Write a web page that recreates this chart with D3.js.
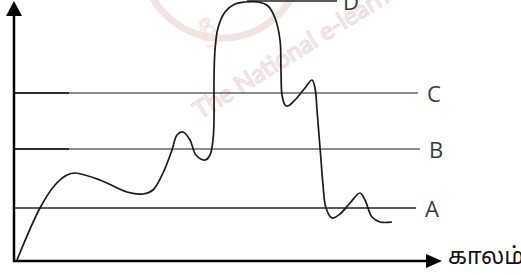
<!DOCTYPE html>
<html>
<head>
<meta charset="utf-8">
<script src="https://d3js.org/d3.v7.min.js"></script>
<style>
  body { margin: 0; background: #fff; }
  svg { display: block; }
</style>
</head>
<body>
<div id="chartContainer"></div>
<script>
// threshold levels
var levelNames  = ["A", "B", "C", "D"];
var levelValues = [52, 111, 167, 259];
var levelStart  = [0, 0, 0, 233];       // where each level line begins (time)
var levelEnd    = [402, 406, 404, 323]; // where each level line ends (time)

// the wavy curve: time / level pairs
var curveTime  = [3, 26, 41, 53, 61, 86, 113, 129, 139, 149, 158, 163, 169, 176, 182, 191, 196, 199, 200, 200, 201, 204, 211, 221, 231, 244, 254, 261, 266, 267, 268, 271, 274, 281, 291, 298, 301, 303, 305, 307, 309, 312, 318, 326, 336, 346, 351, 358, 366, 378];
var curveLevel = [0, 52, 75, 85, 87, 80, 68, 66, 70, 87, 110, 125, 128, 120, 105, 100, 105, 120, 140, 180, 210, 232, 248, 256, 258, 258, 254, 242, 220, 190, 165, 155, 154, 160, 172, 180, 172, 150, 125, 100, 75, 52, 42, 46, 57, 67, 60, 43, 38, 38];

var axisLabel = "காலம்";

var width = 521, height = 275;

var svg = d3.select("#chartContainer").append("svg")
    .attr("width", width)
    .attr("height", height);

var x = d3.scaleLinear().domain([0, 426]).range([14, 440]);
var y = d3.scaleLinear().domain([0, 260]).range([260, 0]);

// faint watermark behind everything
var wm = svg.append("g").attr("opacity", 0.6);
wm.append("circle")
    .attr("cx", 222).attr("cy", -42)
    .attr("r", 80)
    .attr("fill", "none")
    .attr("stroke", "#ecd3d3")
    .attr("stroke-width", 7);
wm.append("text")
    .attr("transform", "translate(204,44) rotate(-35)")
    .attr("font-family", "'Noto Sans', sans-serif")
    .attr("font-size", 26)
    .attr("font-weight", "bold")
    .attr("fill", "#f1d6c8")
    .text("ශ්‍රී");
wm.append("text")
    .attr("transform", "translate(200,120) rotate(-32)")
    .attr("font-family", "Lato, 'Open Sans', sans-serif")
    .attr("font-size", 25)
    .attr("fill", "#f6e4e4")
    .attr("stroke", "#e4bcbc")
    .attr("stroke-width", 0.9)
    .text("The National e-learning");

// level lines: black stub on the left, grey beyond
levelValues.forEach(function (v, i) {
  var lineColor = (i === 0 || i === 3) ? "#222" : "#666";
  svg.append("line")
      .attr("x1", x(levelStart[i])).attr("x2", x(levelEnd[i]))
      .attr("y1", y(v)).attr("y2", y(v))
      .attr("stroke", lineColor)
      .attr("stroke-width", 1.6);
  if (i === 1 || i === 2) {
    svg.append("line")
        .attr("x1", x(0)).attr("x2", x(55))
        .attr("y1", y(v)).attr("y2", y(v))
        .attr("stroke", "#111")
        .attr("stroke-width", 1.6);
  }
  svg.append("text")
      .attr("x", i === 3 ? x(levelEnd[i]) + 6 : x(levelEnd[i]) + 9)
      .attr("y", y(v) + 9)
      .attr("font-family", "'Open Sans', sans-serif")
      .attr("font-size", 22)
      .attr("fill", "#3a3a3a")
      .text(levelNames[i]);
});

// the curve
var pts = curveTime.map(function (t, i) { return [t, curveLevel[i]]; });
var line = d3.line()
    .x(function (d) { return x(d[0]); })
    .y(function (d) { return y(d[1]); })
    .curve(d3.curveCatmullRom.alpha(0.5));

svg.append("path")
    .datum(pts)
    .attr("d", line)
    .attr("fill", "none")
    .attr("stroke", "#1a1a1a")
    .attr("stroke-width", 1.7);

// axes with arrow heads
svg.append("line")
    .attr("x1", x(0)).attr("x2", x(0))
    .attr("y1", y(0) + 2).attr("y2", 15)
    .attr("stroke", "#000").attr("stroke-width", 2.5);
svg.append("path")
    .attr("d", "M" + x(0) + ",1 L" + (x(0) - 8) + ",16 L" + (x(0) + 8) + ",16 Z")
    .attr("fill", "#000");

svg.append("line")
    .attr("x1", x(0) - 1).attr("x2", 428)
    .attr("y1", y(0) + 1).attr("y2", y(0) + 1)
    .attr("stroke", "#000").attr("stroke-width", 2.5);
svg.append("path")
    .attr("d", "M442," + (y(0) + 1) + " L426," + (y(0) - 6) + " L426," + (y(0) + 8) + " Z")
    .attr("fill", "#000");

svg.append("text")
    .attr("x", 448)
    .attr("y", y(0) + 4)
    .attr("font-family", "Latha, 'Noto Sans Tamil', 'Noto Sans', sans-serif")
    .attr("font-size", 23)
    .attr("fill", "#111")
    .text(axisLabel);
</script>
</body>
</html>
